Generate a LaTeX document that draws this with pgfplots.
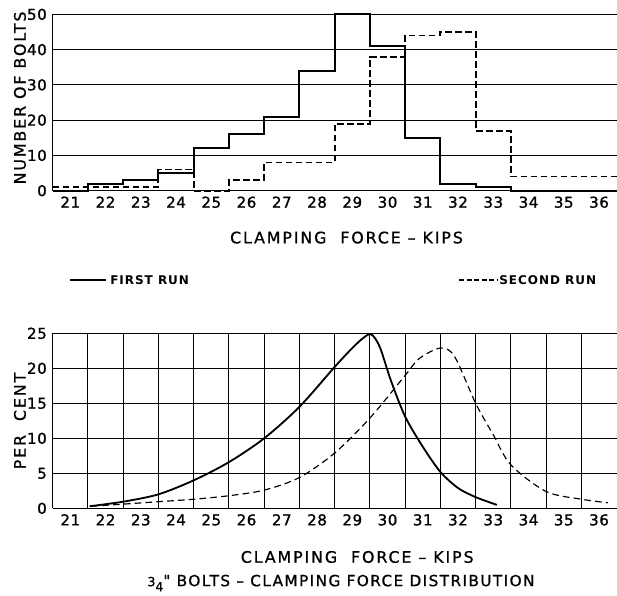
\documentclass[border=0pt]{standalone}
\usepackage{fontspec}
\setmainfont{DejaVu Sans}
\newfontfamily\lab[LetterSpace=4, FakeBold=1.2]{DejaVu Sans}
\newfontfamily\wide[LetterSpace=12, FakeBold=0.8]{DejaVu Sans}
\newfontfamily\ttl[LetterSpace=9, FakeBold=0.8]{DejaVu Sans}
\newfontfamily\legf[LetterSpace=8]{DejaVu Sans Bold}
\usepackage{pgfplots}
\pgfplotsset{compat=1.18}

% 1 px of the reference = 0.6pt
\pgfplotsset{refaxis/.style={
  scale only axis, width=338.4pt, anchor=south west,
  axis x line*=bottom, axis y line*=left,
  axis line style={-, line width=0.9pt},
  xmin=20.5, xmax=36.5, xtick={21,...,36},
  major tick length=0pt, minor tick length=0pt,
  tick label style={font=\lab\fontsize{9}{10}\selectfont},
  /pgf/number format/assume math mode=true,
  grid style={black, line width=0.6pt},
  label style={font=\wide\fontsize{9.5}{11}\selectfont},
  clip=false}}

\begin{document}
\begin{tikzpicture}
\useasboundingbox (0,0) rectangle (370.2pt,357pt);

% top: histogram of bolts
\begin{axis}[refaxis, at={(31.6pt,242.6pt)}, height=105.8pt,
  ymin=0, ymax=50, ytick={0,10,...,50}, ymajorgrids,
  xlabel={CLAMPING\ \ FORCE – KIPS},
  xlabel style={at={(axis description cs:0.521,-0.266)}, anchor=center},
  ylabel={NUMBER OF BOLTS},
  ylabel style={at={(axis description cs:-0.058,0.526)}, anchor=center}]
\addplot[const plot, black, line width=1.2pt] coordinates {
  (20.5,0) (21.5,2) (22.5,3) (23.5,5) (24.5,12) (25.5,16) (26.5,21) (27.5,34)
  (28.5,50) (29.5,41) (30.5,15) (31.5,2) (32.5,1) (33.5,0) (36.5,0)};
\addplot[const plot, black, line width=1.1pt, dash pattern=on 4pt off 2pt] coordinates {
  (20.5,1) (21.5,1) (22.5,1) (23.5,6) (24.5,0) (25.5,3) (26.5,8) (27.5,8)
  (28.5,19) (29.5,38) (30.5,44) (31.5,45) (32.5,17) (33.5,4) (36.5,4)};
\end{axis}

% bottom: per cent curves
\begin{axis}[refaxis, at={(31.6pt,52pt)}, height=105pt,
  ymin=0, ymax=25, ytick={0,5,...,25}, ymajorgrids,
  minor xtick={21.5,22.5,...,35.5}, xminorgrids,
  xlabel={CLAMPING\ \ FORCE – KIPS},
  xlabel style={at={(axis description cs:0.54,-0.278)}, anchor=center},
  ylabel={PER\ \ CENT},
  ylabel style={at={(axis description cs:-0.058,0.499)}, anchor=center}]
\addplot[smooth, tension=0.5, black, line width=1.1pt] coordinates {
  (21.55,0.3) (22.5,0.95) (23.5,2.0) (24.5,4.0) (25.5,6.6) (26.5,10.0)
  (27.5,14.5) (28.5,20.2) (29.0,22.9) (29.3,24.3) (29.5,24.9) (29.63,24.4)
  (29.8,22.8) (30.1,18.2) (30.5,13.1) (31.0,8.8) (31.5,5.2) (32.0,2.9)
  (32.5,1.6) (33.1,0.5)};
\addplot[smooth, tension=0.5, black, line width=0.7pt, dash pattern=on 4pt off 2.5pt] coordinates {
  (21.6,0.3) (22.5,0.6) (23.5,0.95) (24.5,1.3) (25.5,1.8) (26.5,2.6)
  (27.5,4.4) (28.5,7.9) (29.5,12.9) (30.5,19.0) (30.9,21.4) (31.5,22.9)
  (31.9,21.7) (32.5,15.0) (33.0,10.5) (33.5,6.2) (34.5,2.4) (35.5,1.3) (36.25,0.8)};
\end{axis}

% legend
\draw[black, line width=1pt] (42pt,189pt) -- (63.6pt,189pt);
\node[anchor=west, inner sep=0pt, font=\legf\fontsize{7.2}{8}\selectfont] at (66pt,189pt) {FIRST RUN};
\draw[black, line width=0.8pt, dash pattern=on 3pt off 1.5pt] (275.4pt,189pt) -- (298.2pt,189pt);
\node[anchor=west, inner sep=0pt, font=\legf\fontsize{7.2}{8}\selectfont] at (299.4pt,189pt) {SECOND RUN};

% title
\node[font=\ttl\fontsize{9.2}{11}\selectfont] at (204.6pt,7.2pt)
  {{\fontsize{7.5}{8}\selectfont 3}\raisebox{-0.6ex}{\fontsize{7.5}{8}\selectfont 4}" BOLTS – CLAMPING\ FORCE\ DISTRIBUTION};
\end{tikzpicture}
\end{document}
